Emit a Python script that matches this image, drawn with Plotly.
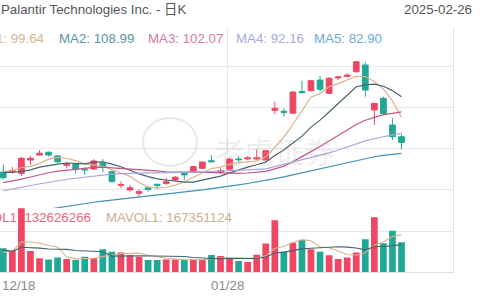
import plotly.graph_objects as go
import pandas as pd

# ---------------- data ----------------
dates = ["12/18", "12/19", "12/20", "12/23", "12/24", "12/26", "12/27", "12/30", "12/31",
         "01/02", "01/03", "01/06", "01/07", "01/08", "01/10", "01/13", "01/14", "01/15",
         "01/16", "01/17", "01/21", "01/22", "01/23", "01/24", "01/27", "01/28", "01/29",
         "01/30", "01/31", "02/03", "02/04", "02/05", "02/06", "02/07", "02/10", "02/11",
         "02/12", "02/13", "02/14", "02/18", "02/19", "02/20", "02/21", "02/24", "02/25"]

opens = [74.4, 74.6, 73.8, 79.9, 82.2, 83.5, 81.8, 77.5, 78.1, 75.7,
         75.8, 78.6, 74.6, 68.3, 66.2, 64.7, 67.2, 68.8, 69.2, 70.8,
         73.8, 74.6, 76.1, 79.6, 74.3, 75.7, 80.4, 80.4, 80.4, 79.9,
         102.7, 102.3, 101.4, 111.3, 111.7, 116.6, 110.5, 117.6, 118.3, 120.4,
         123.5, 102.9, 108.2, 96.0, 90.6]
highs = [77.8, 76.7, 81.3, 81.8, 84.5, 83.8, 82.2, 79.1, 78.4, 76.6,
         80.3, 80.3, 75.0, 70.0, 68.5, 66.5, 68.0, 68.9, 71.5, 72.6,
         73.8, 77.2, 79.2, 82.2, 76.1, 80.9, 81.8, 81.8, 84.8, 84.5,
         106.7, 103.6, 111.6, 116.3, 116.6, 118.5, 118.0, 118.6, 119.7, 125.3,
         125.0, 106.1, 109.0, 99.1, 91.6]
lows = [70.9, 73.8, 72.6, 77.6, 82.1, 81.5, 78.4, 76.1, 73.8, 73.1,
        75.4, 74.4, 69.6, 67.0, 65.4, 63.1, 65.4, 66.5, 68.5, 70.4,
        70.8, 74.4, 76.1, 79.0, 73.5, 75.4, 79.1, 79.9, 79.9, 79.8,
        101.0, 99.8, 101.0, 110.7, 111.4, 111.3, 110.2, 116.6, 117.7, 120.1,
        109.0, 96.0, 100.4, 89.1, 84.8]
closes = [71.8, 75.0, 80.7, 80.7, 83.0, 82.2, 79.1, 78.1, 75.7, 75.4,
          79.5, 76.7, 70.0, 68.6, 67.2, 65.4, 66.4, 68.2, 70.0, 72.0,
          73.1, 76.9, 79.0, 79.1, 75.0, 80.3, 80.1, 80.9, 81.0, 84.2,
          103.6, 101.8, 111.1, 110.8, 116.3, 112.4, 117.4, 118.0, 118.8, 125.0,
          112.0, 105.9, 101.2, 90.6, 88.0]
volumes_m = [106, 96, 283, 94, 62, 57, 65, 59, 54, 69,
             62, 102, 91, 87, 76, 69, 54, 54, 57, 57,
             54, 57, 54, 76, 72, 66, 50, 46, 78, 127,
             230, 91, 131, 143, 102, 91, 75, 59, 65, 87,
             146, 243, 128, 184, 132.626266]

# closes / volumes before the first visible day (estimated), feeding the moving averages
history_closes = [36.9, 36.4, 37.1, 37.2,
                  36.0, 37.5, 38.6, 39.5, 40.1, 41.6, 42.6, 42.1, 43.0, 43.9, 42.0, 42.3,
                  43.0, 44.0, 43.5, 43.0, 41.6, 42.0, 44.0, 45.2, 44.9, 43.4, 41.6,
                  42.0, 41.2, 51.0, 55.0, 55.5, 55.5, 60.0, 59.0, 59.0, 58.0, 62.0, 61.0,
                  61.0, 62.0, 61.0, 61.0, 62.0, 64.0, 64.0, 67.5,
                  69.0, 67.5, 70.0, 75.0, 76.5, 73.0, 71.0, 74.0, 73.0, 73.0, 78.0, 77.0]
history_volumes_m = [150, 100, 100, 95, 94, 70, 75, 100, 90]

ma_names = ["MA1", "MA2", "MA3", "MA4", "MA5"]
ma_periods = [5, 10, 20, 30, 60]
ma_values_text = ["99.64", "108.99", "102.07", "92.16", "82.90"]
mavol_periods = [5, 10]
vol_text = "132626266"
mavol_text = "167351124"
tick_labels = ["12/18", "01/28"]
title_text = "Palantir Technologies Inc. - 日K"
date_text = "2025-02-26"
price_grid = [66.2, 85.0, 103.8, 122.6]
volume_grid = [179.5e6]

# ---------------- styles ----------------
RED = "#EE4663"
GREEN = "#21A894"
MA_LINE_COLORS = ["#DDB08C", "#48636F", "#BE5886", "#ABA5DD", "#4291B2"]
MA_TEXT_COLORS = ["#D9B48F", "#5A93A8", "#D47AA4", "#A6A9E0", "#6AABD8"]
MAVOL_COLORS = ["#DDB08C", "#48636F"]
GRID = "#E8E8E8"
FONT = "Liberation Sans, Arial, Noto Sans CJK SC, sans-serif"
FS = 13.3

W, H = 480, 300
n = len(closes)
xs = list(range(n))
volumes = [v * 1e6 for v in volumes_m]

all_c = pd.Series(history_closes + closes)
mas = [all_c.rolling(p).mean().iloc[len(history_closes):].tolist() for p in ma_periods]
all_v = pd.Series([v * 1e6 for v in history_volumes_m] + volumes)
mavols = [all_v.rolling(p).mean().iloc[len(history_volumes_m):].tolist() for p in mavol_periods]
bar_colors = [RED if c >= o else GREEN for o, c in zip(opens, closes)]

# pane geometry in pixels
plot_right = 453
x_range = [-0.365, (plot_right - 3.3) / 9.05]
price_top, price_bot = 27, 208
vol_top, vol_bot = 208, 272.3
price_range = [57.91, 140.94]
vol_range = [0, 284.2e6]

def py(p):
    return 1 - p / H

def px(p):
    return p / W

fig = go.Figure()
for vals, col in zip(mas, MA_LINE_COLORS):
    fig.add_trace(go.Scatter(x=xs, y=vals, mode="lines", line=dict(color=col, width=1.2),
                             xaxis="x", yaxis="y", hoverinfo="skip"))
fig.add_trace(go.Candlestick(
    x=xs, open=opens, high=highs, low=lows, close=closes,
    increasing=dict(line=dict(color=RED, width=1), fillcolor=RED),
    decreasing=dict(line=dict(color=GREEN, width=1), fillcolor=GREEN),
    whiskerwidth=0, xaxis="x", yaxis="y", hoverinfo="skip"))
fig.add_trace(go.Bar(x=xs, y=volumes, marker=dict(color=bar_colors, line=dict(width=0)),
                     width=0.74, xaxis="x2", yaxis="y2", hoverinfo="skip"))
for vals, col in zip(mavols, MAVOL_COLORS):
    fig.add_trace(go.Scatter(x=xs, y=vals, mode="lines", line=dict(color=col, width=1.1),
                             xaxis="x2", yaxis="y2", hoverinfo="skip"))

tick_idx = [dates.index(t) for t in tick_labels]
tick_pos = [i - 0.27 for i in tick_idx]

annotations = []
# title row
annotations.append(dict(text=title_text, x=px(-1), y=py(10), xref="paper", yref="paper",
                        xanchor="left", yanchor="middle", showarrow=False,
                        font=dict(family=FONT, size=FS, color="#555555")))
annotations.append(dict(text=date_text, x=px(474), y=py(10), xref="paper", yref="paper",
                        xanchor="right", yanchor="middle", showarrow=False,
                        font=dict(family=FONT, size=FS, color="#555555")))
# MA legend row
ma_x = [(45.5, "right"), (56.5, "left"), (146, "left"), (233.5, "left"), (312, "left")]
for (xp, anc), name, val, col in zip(ma_x, ma_names, ma_values_text, MA_TEXT_COLORS):
    annotations.append(dict(text=f"{name}: {val}", x=px(xp), y=py(38.5), xref="paper", yref="paper",
                            xanchor=anc, yanchor="middle", showarrow=False,
                            font=dict(family=FONT, size=FS, color=col)))
# volume legend
annotations.append(dict(text=f"VOL1: {vol_text}", x=px(92.5), y=py(217), xref="paper", yref="paper",
                        xanchor="right", yanchor="middle", showarrow=False,
                        font=dict(family=FONT, size=FS, color="#E9667A")))
annotations.append(dict(text=f"MAVOL1: {mavol_text}", x=px(103.5), y=py(217), xref="paper", yref="paper",
                        xanchor="left", yanchor="middle", showarrow=False,
                        font=dict(family=FONT, size=FS, color="#CFAE8E")))
# x labels
for pos, lab in zip(tick_pos, tick_labels):
    left = pos - 1.5 < x_range[0]
    annotations.append(dict(text=lab, x=(x_range[0] if left else pos), y=py(285), xref="x2", yref="paper",
                            xanchor=("left" if left else "center"), yanchor="middle", showarrow=False,
                            font=dict(family=FONT, size=FS, color="#8A8A8A")))
# watermark
annotations.append(dict(text="老虎证券", x=px(274), y=py(150), xref="paper", yref="paper",
                        xanchor="center", yanchor="middle", showarrow=False,
                        font=dict(family="Noto Sans CJK SC", size=30, color="rgba(180,180,180,0.22)")))

shapes = [dict(type="circle", xref="paper", yref="paper", x0=px(143), x1=px(197),
               y0=py(166), y1=py(118), line=dict(color="rgba(190,190,190,0.35)", width=2))]

axis_common = dict(showticklabels=False, zeroline=False, ticks="", fixedrange=True)
fig.update_layout(
    width=W, height=H, margin=dict(l=0, r=0, t=0, b=0),
    paper_bgcolor="white", plot_bgcolor="white", showlegend=False,
    boxgap=0.37, boxgroupgap=0, bargap=0.26,
    xaxis=dict(domain=[0, px(plot_right)], range=x_range, anchor="y", tickvals=tick_pos,
               showgrid=True, gridcolor=GRID, rangeslider=dict(visible=False), **axis_common),
    xaxis2=dict(domain=[0, px(plot_right)], range=x_range, anchor="y2", tickvals=tick_pos,
                showgrid=True, gridcolor=GRID, showline=True, linecolor="#E2E2E2", linewidth=1,
                **axis_common),
    yaxis=dict(domain=[py(price_bot), py(price_top)], range=price_range, anchor="x", side="right",
               tickvals=price_grid, showgrid=True, gridcolor=GRID, showline=True,
               linecolor="#E2E2E2", linewidth=1, **axis_common),
    yaxis2=dict(domain=[py(vol_bot), py(vol_top)], range=vol_range, anchor="x2", side="right",
                tickvals=volume_grid, showgrid=True, gridcolor=GRID, showline=True,
                linecolor="#E2E2E2", linewidth=1, **axis_common),
    annotations=annotations, shapes=shapes,
)

fig.write_html("out.html")
